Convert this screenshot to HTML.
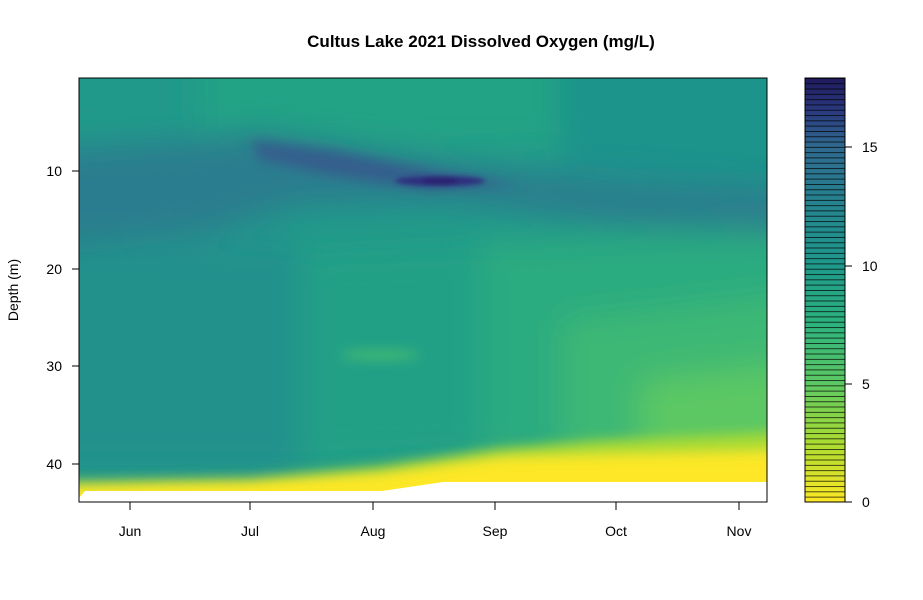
<!DOCTYPE html>
<html><head><meta charset="utf-8"><style>
html,body{margin:0;padding:0;background:#fff;}
svg{display:block;font-family:"Liberation Sans",Arial,sans-serif;}
</style></head><body>
<svg width="923" height="600" viewBox="0 0 923 600" xmlns="http://www.w3.org/2000/svg">
<defs>
<clipPath id="pc"><rect x="79" y="78" width="688" height="424"/></clipPath>
<filter id="b1" filterUnits="userSpaceOnUse" x="0" y="0" width="923" height="600"><feGaussianBlur stdDeviation="16"/></filter>
<filter id="b2" filterUnits="userSpaceOnUse" x="0" y="0" width="923" height="600"><feGaussianBlur stdDeviation="6"/></filter>
<filter id="b3" filterUnits="userSpaceOnUse" x="0" y="0" width="923" height="600"><feGaussianBlur stdDeviation="2.5"/></filter>
<linearGradient id="cb" x1="0" y1="0" x2="0" y2="1">
<stop offset="0" stop-color="#1f1a5c"/>
<stop offset="0.08" stop-color="#2a3a7e"/>
<stop offset="0.16" stop-color="#2f688e"/>
<stop offset="0.30" stop-color="#25838e"/>
<stop offset="0.44" stop-color="#1f988b"/>
<stop offset="0.58" stop-color="#2db27d"/>
<stop offset="0.72" stop-color="#5cc863"/>
<stop offset="0.86" stop-color="#aadc32"/>
<stop offset="1" stop-color="#fde725"/>
</linearGradient>
<pattern id="ln" x="805" y="78" width="40" height="5.3" patternUnits="userSpaceOnUse">
<rect x="0" y="0" width="40" height="0.8" fill="#000" fill-opacity="0.85"/>
</pattern>
</defs>
<text x="481" y="47" text-anchor="middle" font-size="17" font-weight="bold">Cultus Lake 2021 Dissolved Oxygen (mg/L)</text>

<g clip-path="url(#pc)">
<rect x="60" y="60" width="730" height="460" fill="#21998a"/>
<g filter="url(#b1)">
<polygon points="200,40 560,40 560,150 420,150 260,130 200,130" fill="#22a385"/>
<polygon points="560,40 820,40 820,190 560,175" fill="#1f938b"/>
<polygon points="30,240 300,240 300,470 30,470" fill="#21918c"/>
<polygon points="300,250 480,240 480,460 300,470" fill="#23a086"/>
<polygon points="480,240 820,230 820,460 480,460" fill="#2cab80"/>
<polygon points="560,320 820,290 820,460 560,460" fill="#3cb875"/>
<polygon points="640,380 820,360 820,460 640,460" fill="#5cc863"/>
<polygon points="30,150 200,140 260,132 440,160 600,180 820,190 820,235 600,222 440,200 300,205 200,235 30,245" fill="#2a7d8e"/>
</g>
<g filter="url(#b2)">
<polygon points="250,140 330,150 440,172 520,185 430,190 330,175 260,160" fill="#345e8d"/>
<polygon points="40,482 250,478 380,466 500,448 600,440 820,430 820,460 500,462 380,476 250,484 40,490" fill="#a8db34"/>
<polygon points="40,486 250,482 380,474 500,458 820,450 820,520 40,520" fill="#fde725"/>
<ellipse cx="380" cy="355" rx="40" ry="4" fill="#4ac16d"/>
</g>
<g filter="url(#b3)">
<ellipse cx="440" cy="181" rx="45" ry="5" fill="#2e2f7e"/>
<ellipse cx="440" cy="181" rx="18" ry="3" fill="#2a1a6e"/>
</g>
<polygon points="79,502 79,498 85,491 382,491 443,482 767,482 767,502" fill="#fff"/>
</g>
<rect x="79" y="78" width="688" height="424" fill="none" stroke="#000" stroke-width="1"/>

<g stroke="#000" stroke-width="1">
<line x1="72" y1="171" x2="79" y2="171"/>
<line x1="72" y1="269" x2="79" y2="269"/>
<line x1="72" y1="366" x2="79" y2="366"/>
<line x1="72" y1="464" x2="79" y2="464"/>
<line x1="130" y1="502" x2="130" y2="510"/>
<line x1="250" y1="502" x2="250" y2="510"/>
<line x1="373" y1="502" x2="373" y2="510"/>
<line x1="495" y1="502" x2="495" y2="510"/>
<line x1="616" y1="502" x2="616" y2="510"/>
<line x1="739" y1="502" x2="739" y2="510"/>
</g>
<g font-size="14" text-anchor="end">
<text x="62" y="176">10</text><text x="62" y="274">20</text><text x="62" y="371">30</text><text x="62" y="469">40</text>
</g>
<text transform="translate(18,290) rotate(-90)" text-anchor="middle" font-size="14">Depth (m)</text>
<g font-size="14" text-anchor="middle">
<text x="130" y="536">Jun</text><text x="250" y="536">Jul</text><text x="373" y="536">Aug</text>
<text x="495" y="536">Sep</text><text x="616" y="536">Oct</text><text x="739" y="536">Nov</text>
</g>

<rect x="805" y="78" width="40" height="424" fill="url(#cb)"/>
<rect x="805" y="78" width="40" height="424" fill="url(#ln)"/>
<rect x="805" y="78" width="40" height="424" fill="none" stroke="#000" stroke-width="1"/>
<g stroke="#000"><line x1="845" y1="502" x2="852" y2="502"/><line x1="845" y1="384" x2="852" y2="384"/><line x1="845" y1="266" x2="852" y2="266"/><line x1="845" y1="147" x2="852" y2="147"/></g>
<g font-size="14">
<text x="862" y="507">0</text><text x="862" y="389">5</text><text x="862" y="271">10</text><text x="862" y="152">15</text>
</g>
</svg>
</body></html>
